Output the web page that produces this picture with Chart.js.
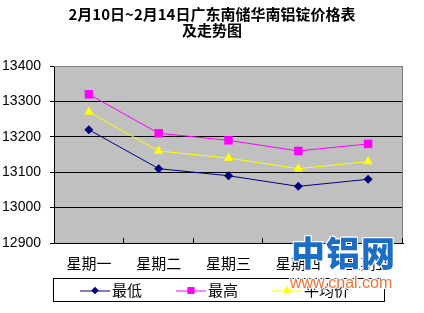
<!DOCTYPE html>
<html>
<head>
<meta charset="utf-8">
<script src="https://cdn.jsdelivr.net/npm/chart.js@4.4.1/dist/chart.umd.min.js"></script>
<style>
  html, body { margin: 0; padding: 0; background: #fff; }
  #wrap { position: relative; width: 424px; height: 313px; }
  #logo {
    position: absolute; left: 291px; top: 232px;
    font-family: "Noto Sans CJK SC"; font-weight: 900; font-size: 34px;
    color: #1a6ec4; line-height: 40px; letter-spacing: 1px;
    text-shadow: 1px 1px 0 #fff, -1px -1px 0 #fff, 1px -1px 0 #fff, -1px 1px 0 #fff;
  }
  #site {
    position: absolute; left: 290px; top: 274px;
    font-family: "Liberation Sans", Arial, sans-serif; font-size: 16px;
    color: #f07434; line-height: 18px;
    text-shadow: 1px 1px 0 #fff, -1px -1px 0 #fff, 1px -1px 0 #fff, -1px 1px 0 #fff;
  }
</style>
</head>
<body>
<div id="wrap">
  <canvas id="chart" width="424" height="313"></canvas>
  <div id="logo">中铝网</div>
  <div id="site">www.cnal.com</div>
</div>
<script>
const days = ["星期一", "星期二", "星期三", "星期四", "星期五"];
const lowPrice = [13220, 13110, 13090, 13060, 13080];
const highPrice = [13320, 13210, 13190, 13160, 13180];
const avgPrice = [13270, 13160, 13140, 13110, 13130];
const yTicks = [12900, 13000, 13100, 13200, 13300, 13400];

// gray plot area + top/right border + inner x ticks
const plotBox = {
  id: "plotBox",
  beforeDraw(chart) {
    const { ctx, chartArea: a } = chart;
    ctx.save();
    ctx.fillStyle = "#c0c0c0";
    ctx.fillRect(a.left, a.top, a.right - a.left, a.bottom - a.top);
    ctx.restore();
  },
  afterDatasetsDraw(chart) {
    const { ctx, chartArea: a } = chart;
    ctx.save();
    ctx.strokeStyle = "#808080";
    ctx.lineWidth = 1;
    ctx.beginPath();
    ctx.moveTo(a.left, a.top + 0.5);
    ctx.lineTo(a.right - 0.5, a.top + 0.5);
    ctx.lineTo(a.right - 0.5, a.bottom);
    ctx.stroke();
    // small tick marks on the x axis, between categories
    ctx.strokeStyle = "#000";
    const step = (a.right - a.left) / days.length;
    ctx.beginPath();
    for (let i = 1; i <= days.length; i++) {
      const x = Math.round(a.left + i * step) - 0.5;
      ctx.moveTo(x, a.bottom);
      ctx.lineTo(x, a.bottom - 5);
    }
    ctx.stroke();
    ctx.restore();
  },
};

// excel style legend in a box under the chart
const boxLegend = {
  id: "boxLegend",
  afterDraw(chart) {
    const { ctx, chartArea: a } = chart;
    const top = 278, bottom = 301, left = a.left - 1, right = 384;
    ctx.save();
    ctx.strokeStyle = "#000";
    ctx.lineWidth = 1;
    ctx.strokeRect(left + 0.5, top + 0.5, right - left, bottom - top);
    const cy = (top + bottom) / 2 + 1;
    chart.data.datasets.forEach((ds, i) => {
      const x0 = 80 + i * 96;
      ctx.strokeStyle = ds.borderColor;
      ctx.beginPath();
      ctx.moveTo(x0, cy + 0.5);
      ctx.lineTo(x0 + 30, cy + 0.5);
      ctx.stroke();
      ctx.fillStyle = ds.pointBackgroundColor;
      Chart.helpers.drawPoint(ctx, {
        pointStyle: ds.pointStyle,
        radius: ds.pointRadius * 0.8,
        borderWidth: 0,
        rotation: 0,
      }, x0 + 15, cy);
      ctx.fill();
      ctx.fillStyle = "#000";
      ctx.font = '15px "Noto Sans CJK SC"';
      ctx.textBaseline = "middle";
      ctx.fillText(ds.label, x0 + 32, cy);
    });
    ctx.restore();
  },
};

new Chart(document.getElementById("chart"), {
  type: "line",
  data: {
    labels: days,
    datasets: [
      {
        label: "最低",
        data: lowPrice,
        borderColor: "#000080",
        pointBackgroundColor: "#000080",
        pointBorderColor: "#000080",
        pointStyle: "rectRot",
        pointRadius: 4.5,
      },
      {
        label: "最高",
        data: highPrice,
        borderColor: "#ff00ff",
        pointBackgroundColor: "#ff00ff",
        pointBorderColor: "#ff00ff",
        pointStyle: "rect",
        pointRadius: 6,
      },
      {
        label: "平均价",
        data: avgPrice,
        borderColor: "#ffff00",
        pointBackgroundColor: "#ffff00",
        pointBorderColor: "#ffff00",
        pointStyle: "triangle",
        pointRadius: 5.5,
      },
    ],
  },
  options: {
    responsive: false,
    animation: false,
    layout: { padding: { left: 0, right: 0, top: 0, bottom: 30 } },
    elements: { line: { borderWidth: 1, tension: 0 }, point: { borderWidth: 0 } },
    scales: {
      x: {
        offset: true,
        grid: { display: false, drawTicks: false },
        border: { color: "#000", width: 1 },
        ticks: {
          color: "#000",
          padding: 11,
          font: { family: '"Noto Sans CJK SC"', size: 15 },
          maxRotation: 0,
        },
      },
      y: {
        min: 12900,
        max: 13400,
        afterBuildTicks: (scale) => {
          scale.ticks = yTicks.map((v) => ({ value: v }));
        },
        afterFit: (scale) => {
          scale.width = 54;
        },
        grid: {
          color: (c) => (c.tick && c.tick.value === 13400 ? "#808080" : "#000"),
          tickColor: "#000",
          tickLength: 4,
        },
        border: { color: "#000", width: 1 },
        ticks: {
          color: "#000",
          padding: 9,
          font: { family: '"Liberation Sans", Arial', size: 14 },
          callback: (v) => String(v),
        },
      },
      // empty right margin so the title centres on the whole picture
      yRight: {
        position: "right",
        display: true,
        grid: { display: false, drawTicks: false },
        border: { display: false },
        ticks: { display: false },
        afterFit: (scale) => {
          scale.width = 21;
        },
      },
    },
    plugins: {
      legend: { display: false },
      tooltip: { enabled: false },
      title: {
        display: true,
        text: ["2月10日~2月14日广东南储华南铝锭价格表", "及走势图"],
        color: "#000",
        font: { family: '"Noto Sans CJK SC"', size: 15, weight: "bold", lineHeight: 1.1 },
        padding: { top: 6, bottom: 27 },
      },
    },
  },
  plugins: [plotBox, boxLegend],
});
</script>
</body>
</html>
